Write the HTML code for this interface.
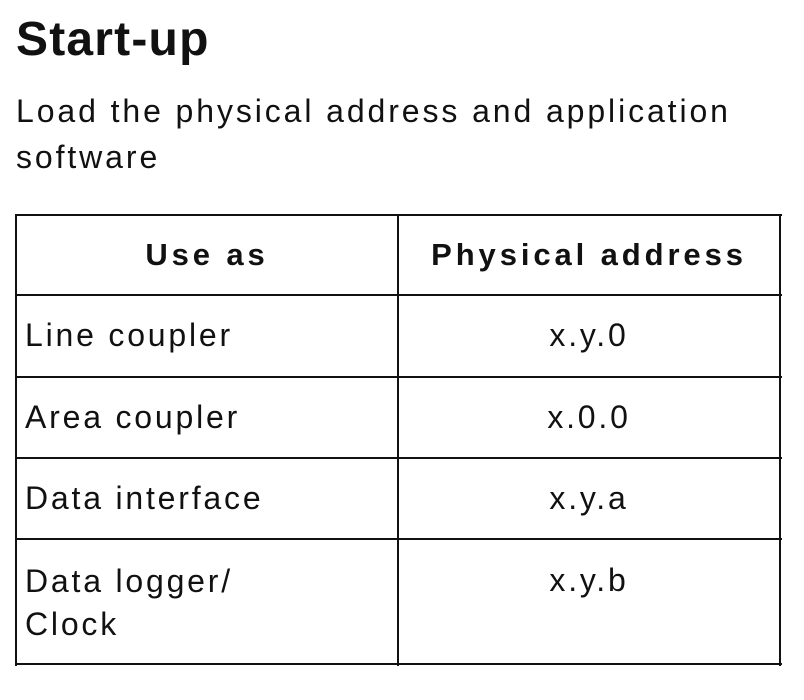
<!DOCTYPE html>
<html><head><style>
body{margin:0;width:804px;height:700px;background:#fff;position:relative;font-family:"Liberation Sans",Arial,sans-serif;color:#111;overflow:hidden}
.a{position:absolute;white-space:nowrap}
.h{position:absolute;height:2px;background:#111;left:15px;width:767px}
.v{position:absolute;width:2px;background:#111;top:214px;height:452px}
.t{font-size:32px;line-height:40px;letter-spacing:2.8px}
.b{font-weight:bold;font-size:31px;letter-spacing:3.9px}
.c{text-align:center}
</style></head><body>
<div class="a" style="left:16px;top:12px;font-size:48px;font-weight:bold;line-height:56px;letter-spacing:1.2px">Start-up</div>
<div class="a t" style="left:16px;top:88px;line-height:46px;letter-spacing:2.9px">Load the physical address and application<br>software</div>
<div class="h" style="top:214px"></div>
<div class="h" style="top:294px"></div>
<div class="h" style="top:376px"></div>
<div class="h" style="top:457px"></div>
<div class="h" style="top:538px"></div>
<div class="h" style="top:663px"></div>
<div class="v" style="left:15px"></div>
<div class="v" style="left:397px"></div>
<div class="v" style="left:779px"></div>
<div class="a t b c" style="left:17px;width:380px;top:235px">Use as</div>
<div class="a t b c" style="left:399px;width:380px;top:235px">Physical address</div>
<div class="a t" style="left:25px;top:315px">Line coupler</div>
<div class="a t" style="left:25px;top:397px">Area coupler</div>
<div class="a t" style="left:25px;top:478px">Data interface</div>
<div class="a t" style="left:25px;top:560px;line-height:43px">Data logger/<br>Clock</div>
<div class="a t c" style="left:399px;width:380px;top:315px">x.y.0</div>
<div class="a t c" style="left:399px;width:380px;top:397px">x.0.0</div>
<div class="a t c" style="left:399px;width:380px;top:478px">x.y.a</div>
<div class="a t c" style="left:399px;width:380px;top:560px">x.y.b</div>
</body></html>
